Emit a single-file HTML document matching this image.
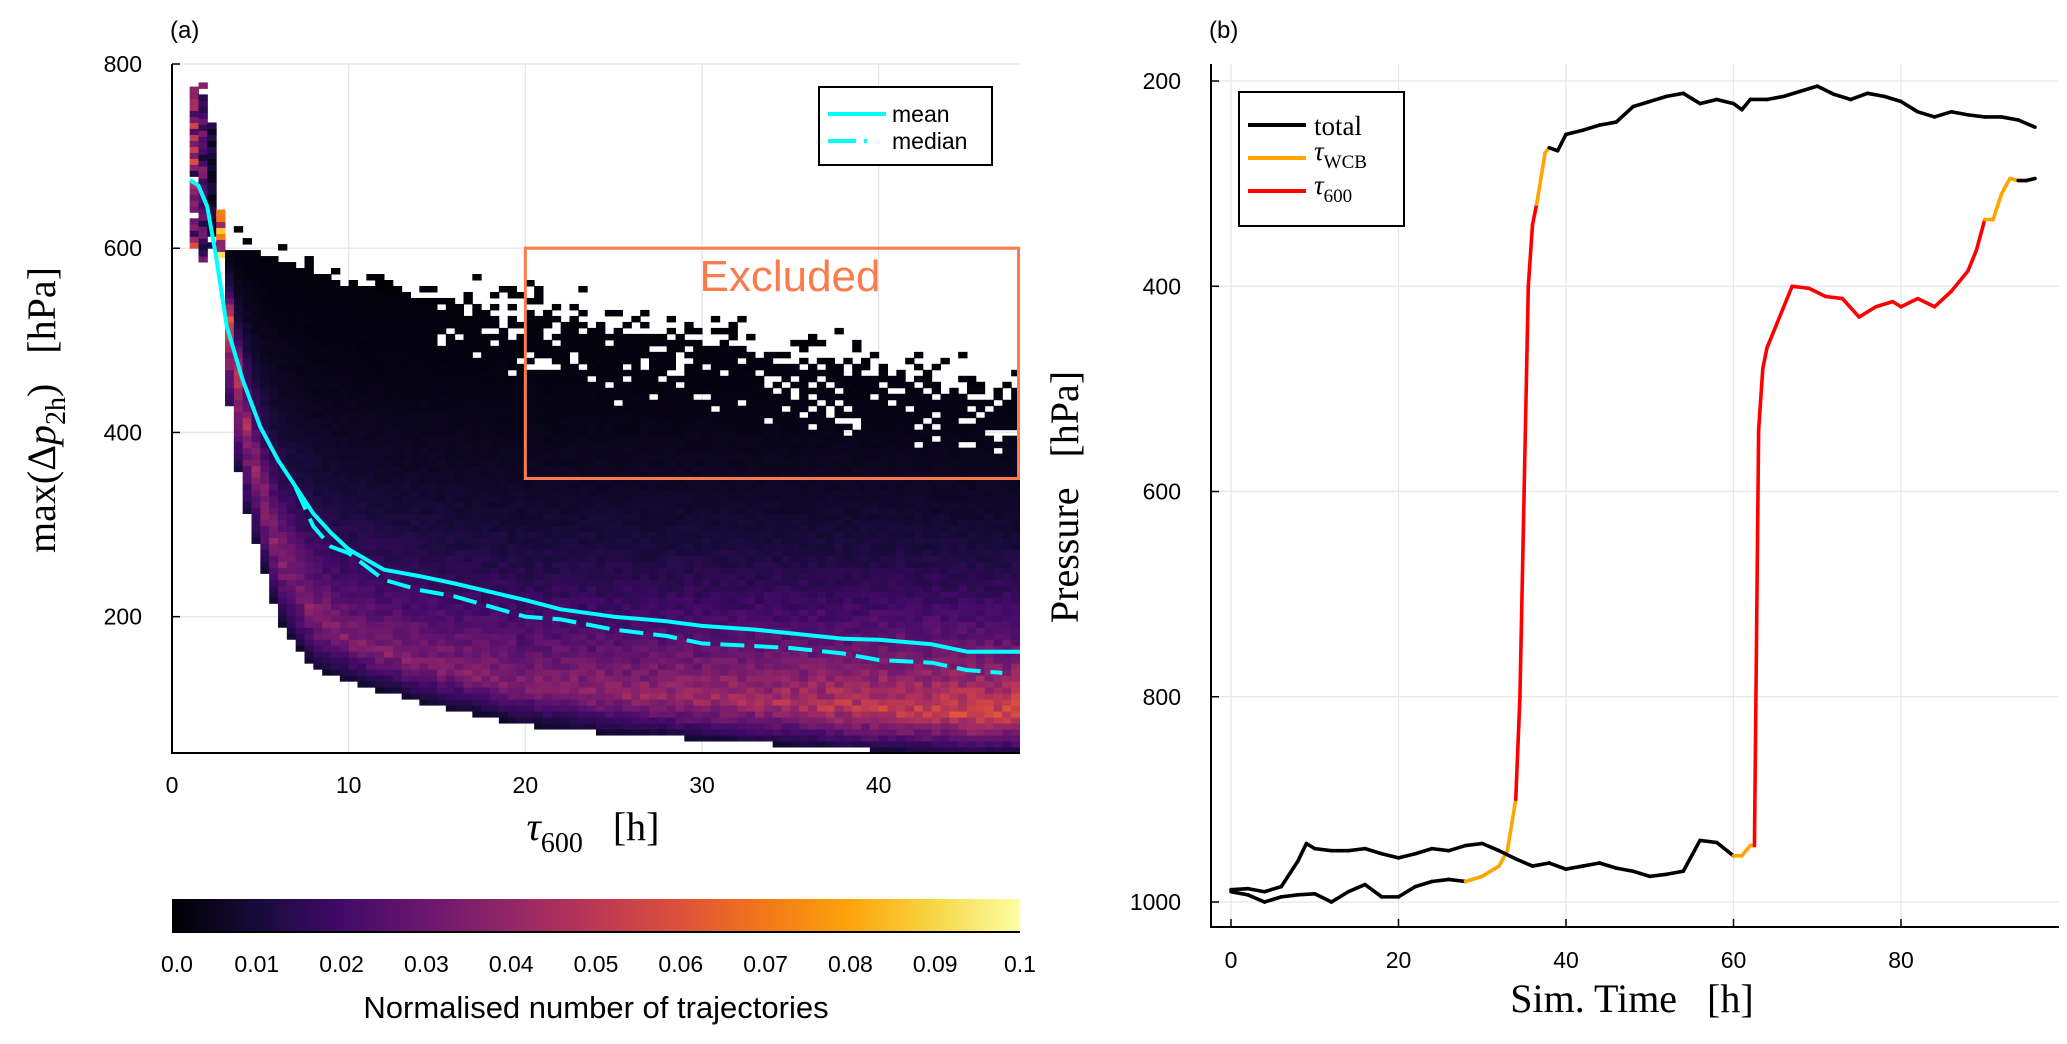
<!DOCTYPE html>
<html><head><meta charset="utf-8"><style>
html,body{margin:0;padding:0;background:#fff;}
svg{display:block;font-family:"Liberation Sans",sans-serif;}
.tk{font-size:23px;fill:#000;}
.ser{font-family:"Liberation Serif","DejaVu Serif",serif;}
</style></head><body>
<svg id="fig" width="2067" height="1044" viewBox="0 0 2067 1044" xmlns="http://www.w3.org/2000/svg">
<defs>
<linearGradient id="inferno" x1="0" x2="1" y1="0" y2="0">
<stop offset="0" stop-color="#000004"/><stop offset="0.1" stop-color="#160b39"/><stop offset="0.2" stop-color="#420a68"/><stop offset="0.3" stop-color="#6a176e"/><stop offset="0.4" stop-color="#932667"/><stop offset="0.5" stop-color="#bc3754"/><stop offset="0.6" stop-color="#dd513a"/><stop offset="0.7" stop-color="#f37819"/><stop offset="0.8" stop-color="#fca50a"/><stop offset="0.9" stop-color="#f6d746"/><stop offset="1" stop-color="#fcffa4"/>
</linearGradient>
<clipPath id="clipA"><rect x="172" y="64" width="848" height="689"/></clipPath>
<clipPath id="clipB"><rect x="1211" y="64" width="848" height="863"/></clipPath>
</defs>
<g id="panelA"></g>
<g id="panelB"></g>
</svg>
<script>
// ---------- Panel (a) data ----------
const hmSampleX = [3, 4, 5, 6, 8, 10, 12, 15, 20, 25, 30, 35, 40, 45, 48];
const hmLower   = [465, 330, 269, 200, 146, 132, 121, 106, 85, 76, 70, 64, 58, 55, 55];
const hmUpper   = [600, 600, 595, 590, 575, 560, 555, 545, 530, 515, 500, 480, 470, 450, 440];
const hmMode    = [560, 430, 340, 270, 200, 175, 160, 145, 125, 115, 110, 105, 100, 95, 95];
const hmPeak    = [0.065, 0.045, 0.04, 0.037, 0.036, 0.036, 0.036, 0.036, 0.037, 0.04, 0.043, 0.047, 0.052, 0.056, 0.058];
const earlyColX   = [1.0, 1.5, 2.0, 2.5];
const earlyColLo  = [600, 585, 600, 590];
const earlyColHi  = [770, 780, 735, 640];
const earlyColVal = [0.04, 0.025, 0.01, 0.08];
const meanX = [1,1.5,2,2.5,3.1,4,5,6,7,8,9,10,12,14,16,18,20,22,25,28,30,33,35,38,40,43,45,48];
const meanY = [674,668,645,590,515,457,406,370,341,312,291,273,251,244,236,227,218,208,200,195,190,186,182,176,175,170,162,162];
const medX = [7,8,9,10,12,14,16,18,20,22,25,28,30,33,35,38,40,43,45,47];
const medY = [340,298,276,269,240,229,222,211,200,197,186,179,171,168,166,160,153,150,142,139];
const cbTicks = ['0.0','0.01','0.02','0.03','0.04','0.05','0.06','0.07','0.08','0.09','0.1'];
const aXTicks = [0,10,20,30,40];
const aYTicks = [200,400,600,800];

// ---------- Panel (b) data ----------
const trajAt = [0,2,4,6,8,10,12,14,16,18,20,22,24,26,28,30,32,33,34,34.5,35,35.5,36,36.5,37.5,38,39,40,42,44,46,48,50,52,54,56,58,60,61,62,64,66,68,70,72,74,76,78,80,82,84,86,88,90,92,94,96];
const trajAp = [990,993,1000,995,993,992,1000,990,983,995,995,985,980,978,980,975,965,950,900,800,600,400,340,320,270,265,268,252,248,243,240,225,220,215,212,222,218,222,228,218,218,215,210,205,213,218,212,215,220,230,235,230,233,235,235,238,245];
const trajAph = ['k','k','k','k','k','k','k','k','k','k','k','k','k','k','o','o','o','o','r','r','r','r','r','o','o','k','k','k','k','k','k','k','k','k','k','k','k','k','k','k','k','k','k','k','k','k','k','k','k','k','k','k','k','k','k','k','k'];
const trajBt = [0,2,4,6,8,9,10,12,14,16,18,20,22,24,26,28,30,32,34,36,38,40,42,44,46,48,50,52,54,56,58,60,61,62,62.5,63,63.5,64,65,67,69,71,73,75,77,79,80,82,84,86,88,89,90,91,92,93,94,95,96];
const trajBp = [988,987,990,985,960,943,948,950,950,948,953,957,953,948,950,945,943,950,958,965,962,968,965,962,967,970,975,973,970,940,942,955,955,945,945,540,480,460,440,400,402,410,412,430,420,415,420,412,420,405,385,365,335,335,310,295,297,297,295];
const trajBph = ['k','k','k','k','k','k','k','k','k','k','k','k','k','k','k','k','k','k','k','k','k','k','k','k','k','k','k','k','k','k','k','o','o','o','r','r','r','r','r','r','r','r','r','r','r','r','r','r','r','r','r','r','o','o','o','o','k','k','k'];
const bXTicks = [0,20,40,60,80];
const bYTicks = [200,400,600,800,1000];

const NS='http://www.w3.org/2000/svg';
function mk(tag, attrs, parent){const e=document.createElementNS(NS,tag);for(const k in attrs)e.setAttribute(k,attrs[k]);parent.appendChild(e);return e;}
function txt(s, attrs, parent){const e=mk('text',attrs,parent);e.textContent=s;return e;}

const inf=[[0,0,4],[22,11,57],[66,10,104],[106,23,110],[147,38,103],[188,55,84],[221,81,58],[243,120,25],[252,165,10],[246,215,70],[252,255,164]];
function cmap(v){let t=Math.max(0,Math.min(1,v/0.1))*10;const i=Math.min(9,Math.floor(t));const f=t-i;const a=inf[i],b=inf[i+1];return `rgb(${Math.round(a[0]+(b[0]-a[0])*f)},${Math.round(a[1]+(b[1]-a[1])*f)},${Math.round(a[2]+(b[2]-a[2])*f)})`;}
function interp(xs,ys,x){if(x<=xs[0])return ys[0];for(let i=1;i<xs.length;i++){if(x<=xs[i]){const f=(x-xs[i-1])/(xs[i]-xs[i-1]);return ys[i-1]+(ys[i]-ys[i-1])*f;}}return ys[ys.length-1];}
function hash(a,b){let h=(a*374761393+b*668265263)>>>0;h=((h^(h>>>13))*1274126177)>>>0;return ((h^(h>>>16))>>>0)/4294967296;}

// ---------- Panel A ----------
const A=document.getElementById('panelA');
const ax=x=>172+(x-0)*(848/48);
const ay=y=>753-(y-52)*(689/748);
aXTicks.forEach(t=>{if(t>0){const g=mk('line',{x1:ax(t),x2:ax(t),y1:64,y2:753,stroke:'#e6e6e6','stroke-width':1.3},A);}});
aYTicks.forEach(t=>{const g=mk('line',{x1:172,x2:1020,y1:ay(t),y2:ay(t),stroke:'#e6e6e6','stroke-width':1.3},A);});
const hm=mk('g',{'clip-path':'url(#clipA)'},A);


const BW=0.5,BH=6.5;
earlyColX.forEach((x0,i)=>{
  for(let y=earlyColLo[i];y<earlyColHi[i];y+=BH){
    const r=hash(i+3,Math.round(y));
    if(r<0.08)continue;
    const v=earlyColVal[i]*(0.3+1.2*hash(Math.round(y),i+11));
    const c=mk('rect',{x:ax(x0),y:ay(y+BH),width:ax(x0+BW)-ax(x0)+0.5,height:ay(y)-ay(y+BH)+0.5,fill:cmap(v)},hm);
    
    
  }
});
for(let x0=3;x0<48;x0+=BW){
  const xc=x0+BW/2;
  const L=interp(hmSampleX,hmLower,xc),U=interp(hmSampleX,hmUpper,xc),M=interp(hmSampleX,hmMode,xc),P=interp(hmSampleX,hmPeak,xc);
  const ci=Math.round(x0*2);
  for(let y=Math.floor(L/BH)*BH;y<U+40;y+=BH){
    const ym=y+BH/2;
    let v;
    if(ym<M){v=P*(0.25+0.75*(ym-L)/Math.max(1,M-L));}
    else{v=P*Math.exp(-(ym-M)/((U-M)/3.2));}
    const r=hash(ci,Math.round(y));
    if(ym>U){ if(r>0.35*(1-(ym-U)/40))continue; v=0.0005;}
    else if(ym>U-90 && xc>15){ if(r<0.3*((ym-(U-90))/90))continue; }
    v*=0.85+0.3*hash(Math.round(y)+7,ci+5);
    const c=mk('rect',{x:ax(x0),y:ay(y+BH),width:ax(x0+BW)-ax(x0)+0.5,height:ay(y)-ay(y+BH)+0.5,fill:cmap(v)},hm);
    
    
  }
}
const mp=mk('path',{d:meanX.map((x,i)=>(i?'L':'M')+ax(x).toFixed(1)+','+ay(meanY[i]).toFixed(1)).join(''),fill:'none',stroke:'#00ffff','stroke-width':4,'stroke-linejoin':'round'},A);


const md=mk('path',{d:medX.map((x,i)=>(i?'L':'M')+ax(x).toFixed(1)+','+ay(medY[i]).toFixed(1)).join(''),fill:'none',stroke:'#00ffff','stroke-width':4,'stroke-dasharray':'24 10'},A);


const eb=mk('rect',{x:ax(20),y:ay(600),width:ax(48)-ax(20)-1.5,height:ay(350)-ay(600),fill:'none',stroke:'#f97c4a','stroke-width':3},A);


const et=txt('Excluded',{x:790,y:291,'font-size':44,fill:'#f97c4a','text-anchor':'middle'},A);


const axA=mk('path',{d:'M172,64V753H1020',fill:'none',stroke:'#000','stroke-width':2},A);


aXTicks.forEach(t=>{const l=txt(String(t),{x:ax(t),y:793,'text-anchor':'middle',class:'tk'},A);});
aYTicks.forEach(t=>{mk('line',{x1:172,x2:180,y1:ay(t),y2:ay(t),stroke:'#000','stroke-width':1.5},A);const l=txt(String(t),{x:142,y:ay(t)+8,'text-anchor':'end',class:'tk'},A);});
const lg=mk('g',{},A);


mk('rect',{x:819,y:87,width:173,height:78,fill:'#fff',stroke:'#000','stroke-width':2},lg);
mk('line',{x1:828,x2:886,y1:114,y2:114,stroke:'#00ffff','stroke-width':4},lg);
mk('line',{x1:828,x2:886,y1:141,y2:141,stroke:'#00ffff','stroke-width':4,'stroke-dasharray':'28 8 3 20'},lg);
txt('mean',{x:892,y:122,class:'tk'},lg);
txt('median',{x:892,y:149,class:'tk'},lg);
const la=txt('(a)',{x:170,y:38,'font-size':24},A);


const ayl=txt('',{transform:'translate(55,410) rotate(-90)','text-anchor':'middle','font-size':40,class:'ser'},A);


ayl.innerHTML='max(Δ<tspan font-style="italic">p</tspan><tspan font-size="28" dy="10">2h</tspan><tspan dy="-10">)\u00A0\u00A0\u00A0[hPa]</tspan>';
const axl=txt('',{x:593,y:840,'text-anchor':'middle','font-size':40,class:'ser'},A);


axl.innerHTML='<tspan font-style="italic">τ</tspan><tspan font-size="28" dy="12">600</tspan><tspan dy="-12">\u00A0\u00A0\u00A0[h]</tspan>';
const cb=mk('rect',{x:172,y:899,width:848,height:33,fill:'url(#inferno)'},A);


mk('line',{x1:172,x2:1020,y1:932,y2:932,stroke:'#000','stroke-width':2},A);
cbTicks.forEach((t,i)=>{const l=txt(t,{x:172+i*84.8+(i===0?5:0),y:972,'text-anchor':'middle',class:'tk'},A);});
const cbl=txt('Normalised number of trajectories',{x:596,y:1018,'text-anchor':'middle','font-size':31},A);



// ---------- Panel B ----------
const B=document.getElementById('panelB');
const bx=x=>1231+x*(670/80);
const by=y=>81+(y-200)*(821/800);
bXTicks.forEach(t=>{const g=mk('line',{x1:bx(t),x2:bx(t),y1:64,y2:927,stroke:'#e6e6e6','stroke-width':1.3},B);});
bYTicks.forEach(t=>{const g=mk('line',{x1:1211,x2:2059,y1:by(t),y2:by(t),stroke:'#e6e6e6','stroke-width':1.3},B);});
const colors={k:'#000000',o:'#ffa500',r:'#ff0000'};
function drawTraj(ts,ps,ph,name){
  const g=mk('g',{'clip-path':'url(#clipB)'},B);
  
  
  for(let i=0;i<ts.length-1;i++){
    const s=mk('line',{x1:bx(ts[i]),y1:by(ps[i]),x2:bx(ts[i+1]),y2:by(ps[i+1]),stroke:colors[ph[i]],'stroke-width':3.6,'stroke-linecap':'round'},g);
    
    
  }
}
drawTraj(trajAt,trajAp,trajAph,'trajectory-1');
drawTraj(trajBt,trajBp,trajBph,'trajectory-2');
const axB=mk('path',{d:'M1211,64V927H2059',fill:'none',stroke:'#000','stroke-width':2},B);


bXTicks.forEach(t=>{mk('line',{x1:bx(t),x2:bx(t),y1:927,y2:919,stroke:'#000','stroke-width':1.5},B);const l=txt(String(t),{x:bx(t),y:968,'text-anchor':'middle',class:'tk'},B);});
bYTicks.forEach(t=>{mk('line',{x1:1211,x2:1219,y1:by(t),y2:by(t),stroke:'#000','stroke-width':1.5},B);const l=txt(String(t),{x:1181,y:by(t)+8,'text-anchor':'end',class:'tk'},B);});
const lb=mk('g',{},B);


mk('rect',{x:1239,y:92,width:165,height:134,fill:'#fff',stroke:'#000','stroke-width':2},lb);
mk('line',{x1:1248,x2:1306,y1:125,y2:125,stroke:'#000','stroke-width':4},lb);
mk('line',{x1:1248,x2:1306,y1:158,y2:158,stroke:'#ffa500','stroke-width':4},lb);
mk('line',{x1:1248,x2:1306,y1:191,y2:191,stroke:'#ff0000','stroke-width':4},lb);
txt('total',{x:1314,y:135,'font-size':27,class:'ser'},lb);
const l2=txt('',{x:1314,y:160,'font-size':27,class:'ser'},lb);l2.innerHTML='<tspan font-style="italic">τ</tspan><tspan font-size="19" dy="8">WCB</tspan>';
const l3=txt('',{x:1314,y:194,'font-size':27,class:'ser'},lb);l3.innerHTML='<tspan font-style="italic">τ</tspan><tspan font-size="19" dy="8">600</tspan>';
const lbB=txt('(b)',{x:1209,y:38,'font-size':24},B);


const byl=txt('Pressure\u00A0\u00A0\u00A0[hPa]',{transform:'translate(1078,497) rotate(-90)','text-anchor':'middle','font-size':40,class:'ser'},B);


const bxl=txt('Sim. Time\u00A0\u00A0\u00A0[h]',{x:1632,y:1012,'text-anchor':'middle','font-size':40,class:'ser'},B);


</script>
</body></html>
